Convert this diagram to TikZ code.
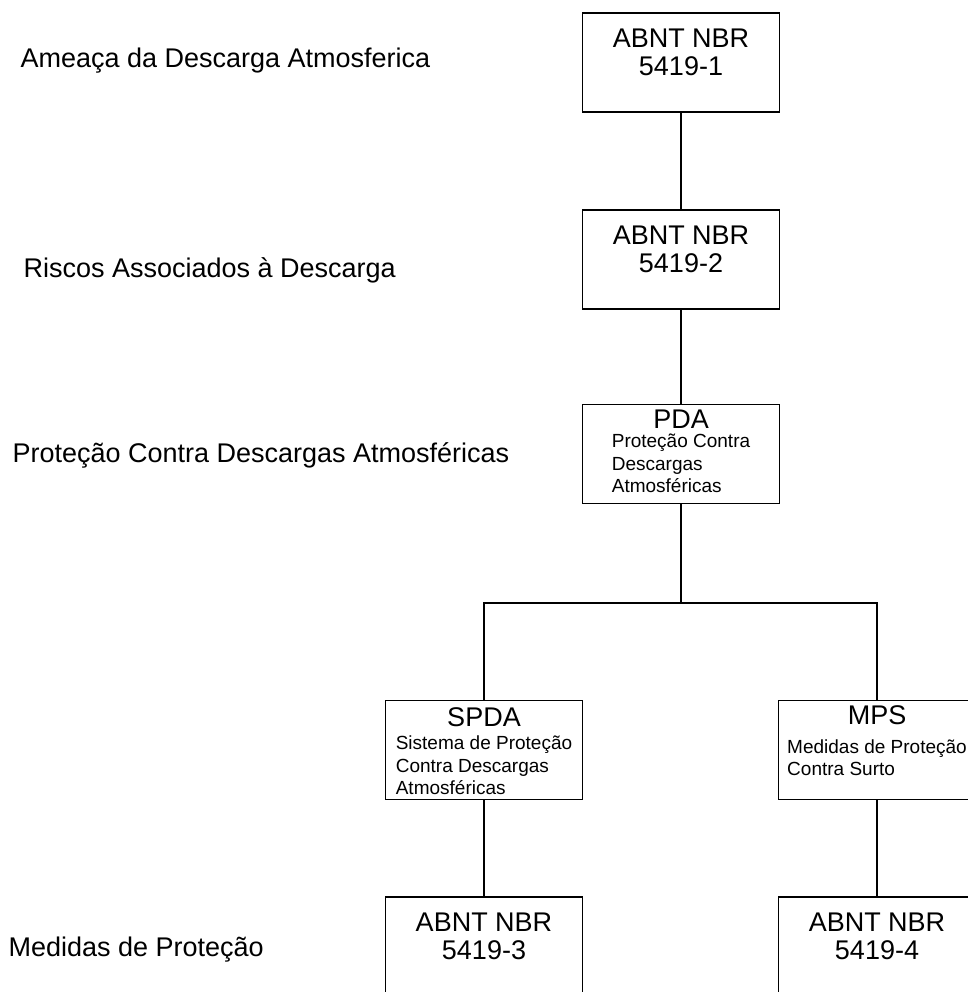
\documentclass[tikz,border=0pt]{standalone}
\usepackage{fontspec}
\setmainfont{Liberation Sans}
\usetikzlibrary{positioning}
\begin{document}
\begin{tikzpicture}[x=1pt, y=-1pt, line width=1.1pt,
    box/.style={draw, rectangle, minimum width=197pt, minimum height=99pt, inner sep=0pt},
    big/.style={font=\fontsize{27}{28}\selectfont, align=center, anchor=base, inner sep=0pt},
    small/.style={font=\fontsize{19}{22.5}\selectfont, align=left, anchor=base, inner sep=0pt},
    lbl/.style={font=\fontsize{27}{28}\selectfont, anchor=base west, inner sep=0pt}]
    \useasboundingbox (0,0) rectangle (967,992);
    % niveis a esquerda
    \node[lbl] (L1) at (20,68) {Ameaça da Descarga Atmosferica};
    \node[lbl] (L2) at (23,277) {Riscos Associados à Descarga};
    \node[lbl] (L3) at (12,462) {Proteção Contra Descargas Atmosféricas};
    \node[lbl] (L4) at (8,956) {Medidas de Proteção};
    % normas
    \foreach \n/\x/\y/\k in {N1/681/62.5/1, N2/681/259.5/2, N3/484/946.5/3, N4/877/946.5/4} {
        \node[box] (\n) at (\x,\y) {};
        \node[big] (\n-t) at ([yshift=-63pt]\n.north) {ABNT NBR\\5419-\k};
    }
    % PDA
    \node[box] (P) at (681,454) {};
    \node[big] (P-t) at ([yshift=-25pt]P.north) {PDA};
    \node[small] (P-d) at ([yshift=-89pt]P.north) {Proteção Contra\\Descargas\\Atmosféricas};
    % SPDA
    \node[box] (S) at (484,750) {};
    \node[big] (S-t) at ([yshift=-27pt]S.north) {SPDA};
    \node[small] (S-d) at ([yshift=-95pt]S.north) {Sistema de Proteção\\Contra Descargas\\Atmosféricas};
    % MPS
    \node[box] (M) at (877,750) {};
    \node[big] (M-t) at ([yshift=-25pt]M.north) {MPS};
    \node[small] (M-d) at ([yshift=-76pt]M.north) {Medidas de Proteção\\Contra Surto};
    % ligacoes
    \coordinate (J) at (681,603);
    \draw (N1.south) -- (N2.north);
    \draw (N2.south) -- (P.north);
    \draw (P.south) -- (J) -| (S.north);
    \draw (J) -| (M.north);
    \draw (S.south) -- (N3.north);
    \draw (M.south) -- (N4.north);
\end{tikzpicture}
\end{document}
